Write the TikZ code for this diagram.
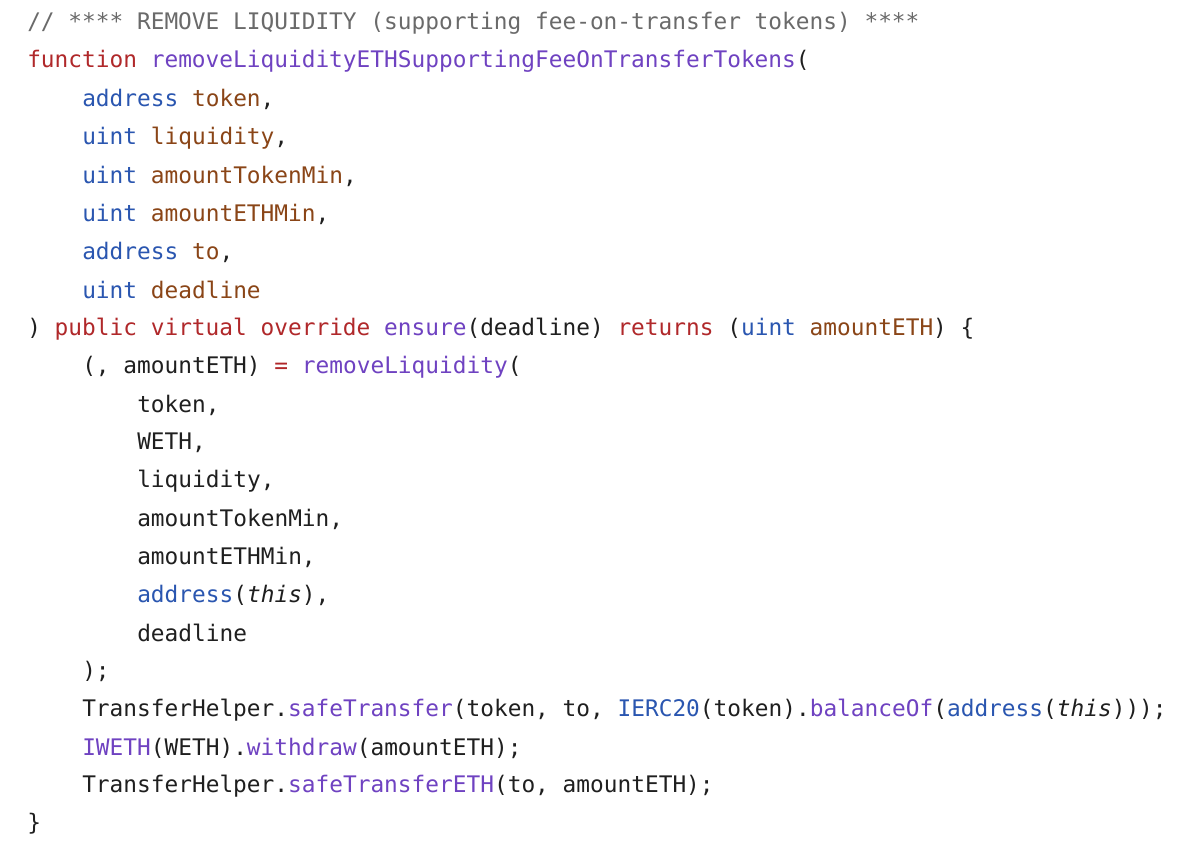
\documentclass[tikz,border=0pt]{standalone}
\usepackage{fontspec}
\newfontfamily\codefont{DejaVu Sans Mono}
\definecolor{cm}{HTML}{6A6A6A}
\definecolor{kw}{HTML}{B0282A}
\definecolor{fn}{HTML}{6F42C1}
\definecolor{ty}{HTML}{2A56B0}
\definecolor{pr}{HTML}{8A4517}
\definecolor{tx}{HTML}{1F1F1F}
\newcommand{\K}[1]{\textcolor{kw}{#1}}
\newcommand{\F}[1]{\textcolor{fn}{#1}}
\newcommand{\T}[1]{\textcolor{ty}{#1}}
\newcommand{\Pm}[1]{\textcolor{pr}{#1}}
\begin{document}
\begin{tikzpicture}[x=0.75pt,y=-0.75pt,
  ln/.style={anchor=west,inner sep=0pt,text=tx,font=\codefont\fontsize{17.1}{20}\selectfont}]
\useasboundingbox[fill=white] (0,0) rectangle (1194,866);
\node[ln] (l1) at (27,23) {\textcolor{cm}{// **** REMOVE LIQUIDITY (supporting fee-on-transfer tokens) ****}};
\node[ln] (l2) at (27,61) {\K{function} \F{removeLiquidityETHSupportingFeeOnTransferTokens}(};
\node[ln] (l3) at (82,99) {\T{address} \Pm{token},};
\node[ln] (l4) at (82,138) {\T{uint} \Pm{liquidity},};
\node[ln] (l5) at (82,176) {\T{uint} \Pm{amountTokenMin},};
\node[ln] (l6) at (82,214) {\T{uint} \Pm{amountETHMin},};
\node[ln] (l7) at (82,252) {\T{address} \Pm{to},};
\node[ln] (l8) at (82,290) {\T{uint} \Pm{deadline}};
\node[ln] (l9) at (27,329) {) \K{public} \K{virtual} \K{override} \F{ensure}(deadline) \K{returns} (\T{uint} \Pm{amountETH}) \{};
\node[ln] (l10) at (82,367) {(, amountETH) \K{=} \F{removeLiquidity}(};
\node[ln] (l11) at (137,405) {token,};
\node[ln] (l12) at (137,443) {WETH,};
\node[ln] (l13) at (137,481) {liquidity,};
\node[ln] (l14) at (137,519) {amountTokenMin,};
\node[ln] (l15) at (137,557) {amountETHMin,};
\node[ln] (l16) at (137,595) {\T{address}(\textit{this}),};
\node[ln] (l17) at (137,633) {deadline};
\node[ln] (l18) at (82,671) {);};
\node[ln] (l19) at (82,710) {TransferHelper.\F{safeTransfer}(token, to, \T{IERC20}(token).\F{balanceOf}(\T{address}(\textit{this})));};
\node[ln] (l20) at (82,748) {\F{IWETH}(WETH).\F{withdraw}(amountETH);};
\node[ln] (l21) at (82,786) {TransferHelper.\F{safeTransferETH}(to, amountETH);};
\node[ln] (l22) at (27,824) {\}};
\end{tikzpicture}
\end{document}
